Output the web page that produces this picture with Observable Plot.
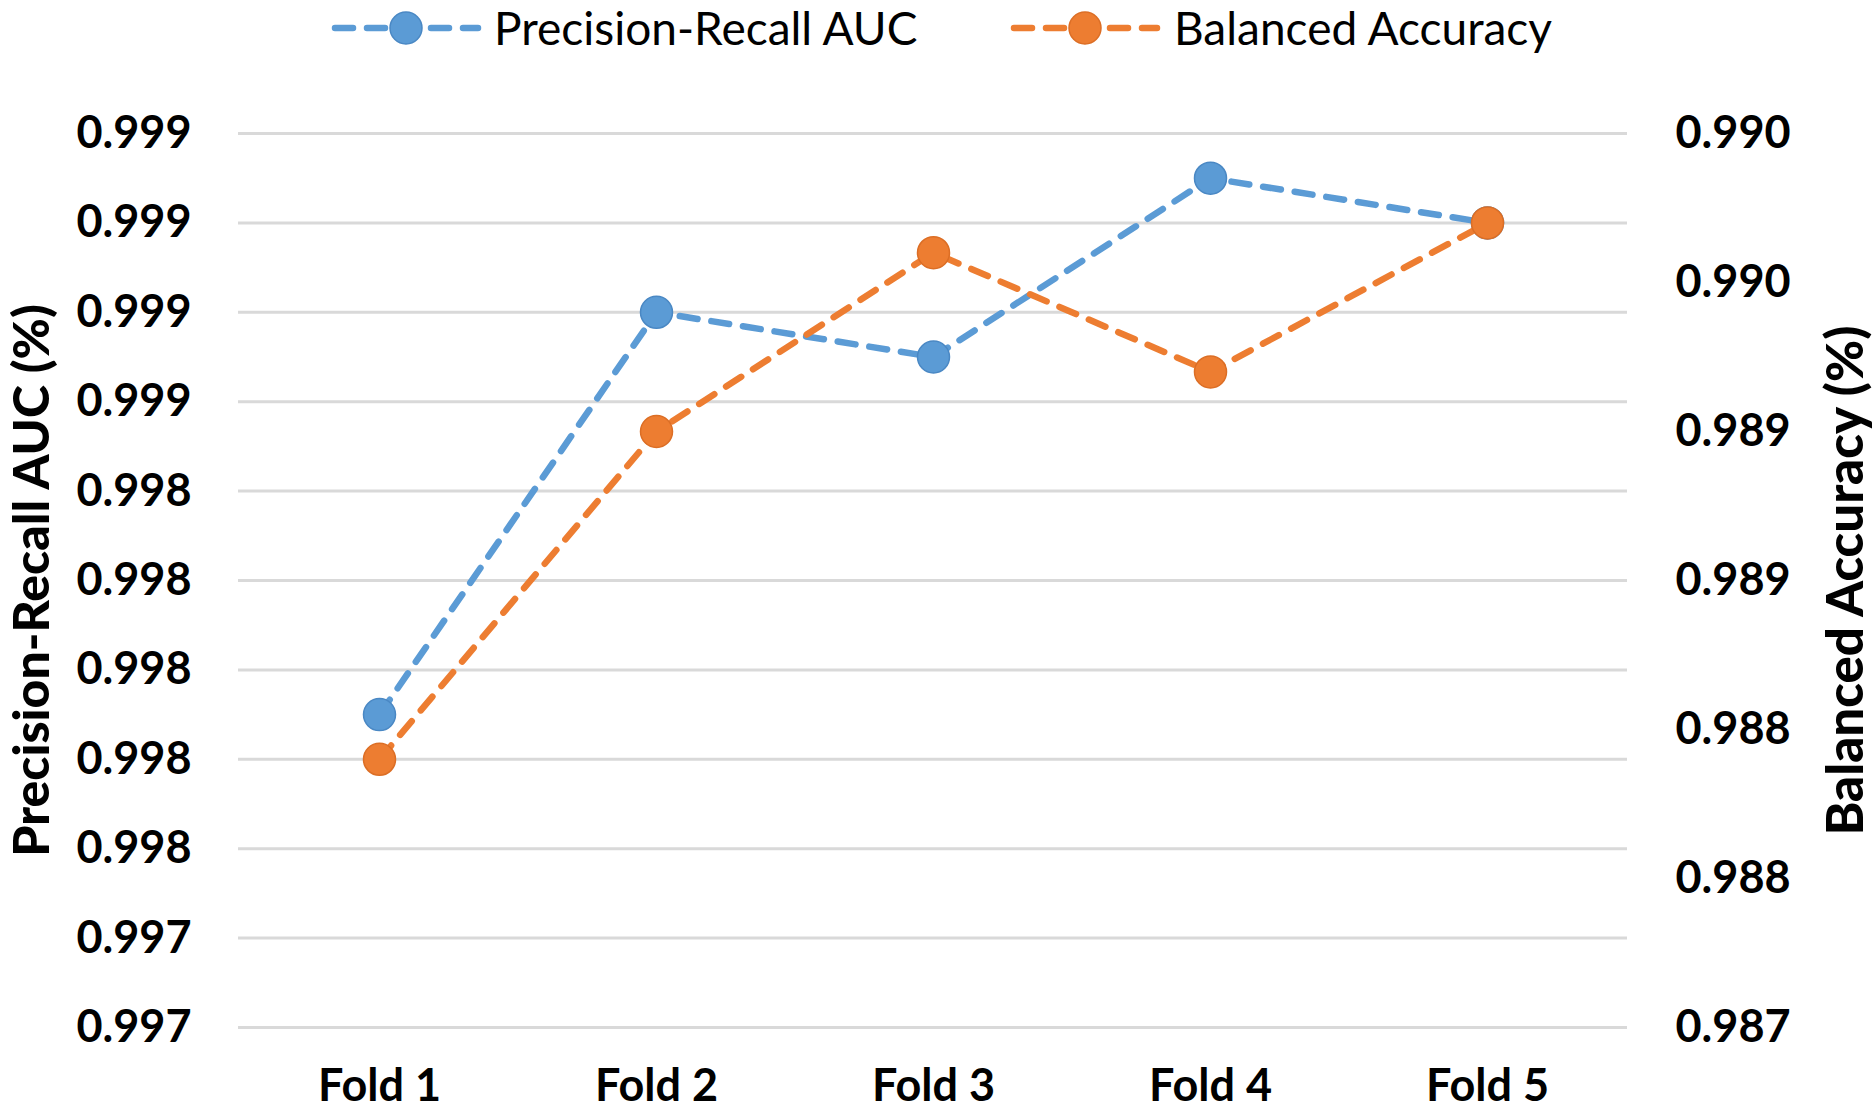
<!DOCTYPE html>
<html><head><meta charset="utf-8">
<script src="https://cdn.jsdelivr.net/npm/d3@7"></script>
<script src="https://cdn.jsdelivr.net/npm/@observablehq/plot@0.6"></script>
<style>
body{margin:0;background:#fff;width:1875px;height:1112px;overflow:hidden;font-family:Lato,sans-serif}
#legend svg{display:block;overflow:visible}
#chart svg{display:block}
</style></head><body>
<div id="legend"></div>
<div id="chart"></div>
<script>
// ---- data ----
const folds = ["Fold 1", "Fold 2", "Fold 3", "Fold 4", "Fold 5"];
const seriesNames = ["Precision-Recall AUC", "Balanced Accuracy"];
const prAuc  = [0.9979, 0.9988, 0.9987, 0.9991, 0.9990];
const balAcc = [0.9879, 0.9890, 0.9896, 0.9892, 0.9897];
const leftTicks = [0.9972, 0.9974, 0.9976, 0.9978, 0.9980, 0.9982, 0.9984, 0.9986, 0.9988, 0.9990, 0.9992];
const leftTickLabels = ["0.997", "0.997", "0.998", "0.998", "0.998", "0.998", "0.998", "0.999", "0.999", "0.999", "0.999"];
const rightTicks = [0.9870, 0.9875, 0.9880, 0.9885, 0.9890, 0.9895, 0.9900];
const rightTickLabels = ["0.987", "0.988", "0.988", "0.989", "0.989", "0.990", "0.990"];
const leftTitle = "Precision-Recall AUC (%)";
const rightTitle = "Balanced Accuracy (%)";
const colors = ["#5B9BD5", "#ED7D31"];
const borders = ["#4A88C4", "#DC6E25"];

// ---- dual-axis mapping ----
const L = [leftTicks[0], leftTicks[leftTicks.length - 1]];
const R = [rightTicks[0], rightTicks[rightTicks.length - 1]];
const toLeft = v => L[0] + (v - R[0]) / (R[1] - R[0]) * (L[1] - L[0]);

const blue = folds.map((f, i) => ({fold: f, v: prAuc[i]}));
const orange = folds.map((f, i) => ({fold: f, v: toLeft(balAcc[i])}));

const leftMap = new Map(leftTicks.map((t, i) => [t, leftTickLabels[i]]));
const rightPos = rightTicks.map(toLeft);
const rightMap = new Map(rightPos.map((t, i) => [t, rightTickLabels[i]]));

const tickFont = {fontSize: 45, fontWeight: "bold", fontFamily: "Lato"};

const plot = Plot.plot({
  width: 1875, height: 1052,
  marginTop: 73, marginBottom: 85, marginLeft: 238, marginRight: 248,
  style: {fontFamily: "Lato", background: "white", color: "black"},
  x: {type: "point", domain: folds, padding: 0.5, axis: null},
  y: {domain: L, axis: null},
  marks: [
    Plot.ruleY(leftTicks, {stroke: "#D9D9D9", strokeWidth: 3}),
    Plot.axisY(leftTicks, {anchor: "left", tickSize: 0, tickPadding: 47, label: null, tickFormat: d => leftMap.get(d), ...tickFont}),
    Plot.axisY(rightPos, {anchor: "right", tickSize: 0, tickPadding: 48, label: null, tickFormat: d => rightMap.get(d), ...tickFont}),
    Plot.axisX(folds, {anchor: "bottom", tickSize: 0, tickPadding: 42, label: null, ...tickFont}),
    Plot.text([leftTitle], {text: d => d, frameAnchor: "left", textAnchor: "middle", lineAnchor: "middle", dx: -206, rotate: -90, fontSize: 50, fontWeight: 900, fontFamily: "Lato"}),
    Plot.text([rightTitle], {text: d => d, frameAnchor: "right", textAnchor: "middle", lineAnchor: "middle", dx: 219, rotate: -90, fontSize: 51, fontWeight: 900, fontFamily: "Lato"}),
    Plot.line(blue, {x: "fold", y: "v", stroke: colors[0], strokeWidth: 6.5, strokeDasharray: "18,14", strokeLinecap: "round"}),
    Plot.dot(blue, {x: "fold", y: "v", r: 16, fill: colors[0], stroke: borders[0], strokeWidth: 1.5}),
    Plot.line(orange, {x: "fold", y: "v", stroke: colors[1], strokeWidth: 6.5, strokeDasharray: "18,14", strokeLinecap: "round"}),
    Plot.dot(orange, {x: "fold", y: "v", r: 16, fill: colors[1], stroke: borders[1], strokeWidth: 1.5})
  ]
});
document.getElementById("chart").appendChild(plot);

// ---- legend (above the chart) ----
const legendItems = [
  {name: seriesNames[0], color: colors[0], border: borders[0], x: 330, tx: 494},
  {name: seriesNames[1], color: colors[1], border: borders[1], x: 1009, tx: 1174}
];
const lg = d3.select("#legend").append("svg").attr("width", 1875).attr("height", 60);
const item = lg.selectAll("g").data(legendItems).join("g");
item.append("line")
  .attr("x1", d => d.x + 5).attr("x2", d => d.x + 148).attr("y1", 28).attr("y2", 28)
  .attr("stroke", d => d.color).attr("stroke-width", 6.5)
  .attr("stroke-dasharray", "18,14").attr("stroke-linecap", "round");
item.append("circle")
  .attr("cx", d => d.x + 76).attr("cy", 28).attr("r", 16)
  .attr("fill", d => d.color).attr("stroke", d => d.border).attr("stroke-width", 1.5);
item.append("text")
  .attr("x", d => d.tx).attr("y", 45)
  .attr("font-family", "Lato").attr("font-size", 46).attr("fill", "black")
  .text(d => d.name);
</script>
</body></html>
